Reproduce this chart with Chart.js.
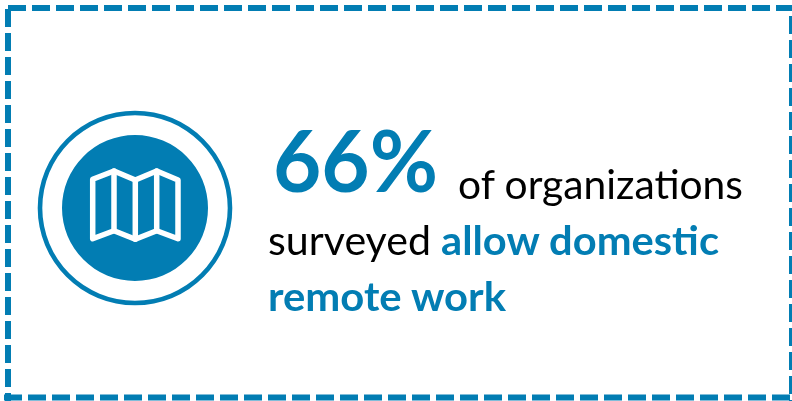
<!DOCTYPE html>
<html lang="en">
<head>
  <meta charset="UTF-8">
  <title>Domestic remote work</title>
  <script src="https://cdn.jsdelivr.net/npm/chart.js"></script>
  <style>
    html, body { margin: 0; padding: 0; background: #fff; }
    body { width: 792px; height: 401px; position: relative; overflow: hidden; }
    #badge { position: absolute; left: 35px; top: 108px; }
    #overlay { position: absolute; left: 0; top: 0; }
    text { font-family: Lato, "Open Sans", sans-serif; }
    .blue { fill: #027db3; font-weight: 700; }
    .black { fill: #000; }
    .edge { stroke: #027db3; stroke-width: 6; stroke-dasharray: 18 6; fill: none; }
    .fold { stroke: #fff; stroke-width: 5.5; stroke-linejoin: round; stroke-linecap: round; fill: none; }
  </style>
</head>
<body>
  <canvas id="badge" width="200" height="200"></canvas>

  <svg id="overlay" width="792" height="401" xmlns="http://www.w3.org/2000/svg">
    <!-- dashed frame, each side starts its own dash run -->
    <line class="edge" x1="8" y1="8" x2="792" y2="8"/>
    <line class="edge" x1="792" y1="16" x2="792" y2="401"/>
    <line class="edge" x1="4" y1="397.5" x2="792" y2="397.5"/>
    <line class="edge" x1="8" y1="9" x2="8" y2="401"/>

    <!-- folded map icon -->
    <path class="fold" d="M92.7 179.3 L114 171 L135.3 180 L156.7 171 L178 180 L178 238.7 L156.7 230.7 L135.3 239.3 L114 230.7 L92.7 238.7 Z"/>
    <path class="fold" d="M114 171 L114 230.7 M135.3 180 L135.3 239.3 M156.7 171 L156.7 230.7"/>

    <text id="stat" class="blue" x="273" y="191.5" font-size="87" textLength="165" lengthAdjust="spacingAndGlyphs"></text>
    <text id="line1" class="black" x="458" y="199" font-size="40" textLength="285" lengthAdjust="spacingAndGlyphs"></text>
    <text id="line2a" class="black" x="268" y="255" font-size="40" textLength="163" lengthAdjust="spacingAndGlyphs"></text>
    <text id="line2b" class="blue" x="441" y="255" font-size="40" textLength="278" lengthAdjust="spacingAndGlyphs"></text>
    <text id="line3" class="blue" x="268" y="311" font-size="40" textLength="238" lengthAdjust="spacingAndGlyphs"></text>
  </svg>

  <script>
    const statValue = [66];
    const statUnit = "%";
    const textLines = ["of organizations", "surveyed", "allow domestic", "remote work"];

    // badge rings, outside to inside: thin ring, white gap, solid disc
    const ringLabels = ["ring", "gap", "disc"];
    const ringValues = [100, 100, 100];
    const ringWeights = [4.6, 19.7, 73];
    const ringColors = ["#027db3", "rgba(0,0,0,0)", "#027db3"];

    document.getElementById("stat").textContent = statValue[0] + statUnit;
    document.getElementById("line1").textContent = textLines[0];
    document.getElementById("line2a").textContent = textLines[1];
    document.getElementById("line2b").textContent = textLines[2];
    document.getElementById("line3").textContent = textLines[3];

    new Chart(document.getElementById("badge"), {
      type: "doughnut",
      data: {
        labels: ["all"],
        datasets: ringLabels.map((name, i) => ({
          label: name,
          data: [ringValues[i]],
          weight: ringWeights[i],
          backgroundColor: ringColors[i],
          borderWidth: 0
        }))
      },
      options: {
        responsive: false,
        animation: false,
        radius: 97.3,
        cutout: 0,
        plugins: { legend: { display: false }, tooltip: { enabled: false } }
      }
    });
  </script>
</body>
</html>
